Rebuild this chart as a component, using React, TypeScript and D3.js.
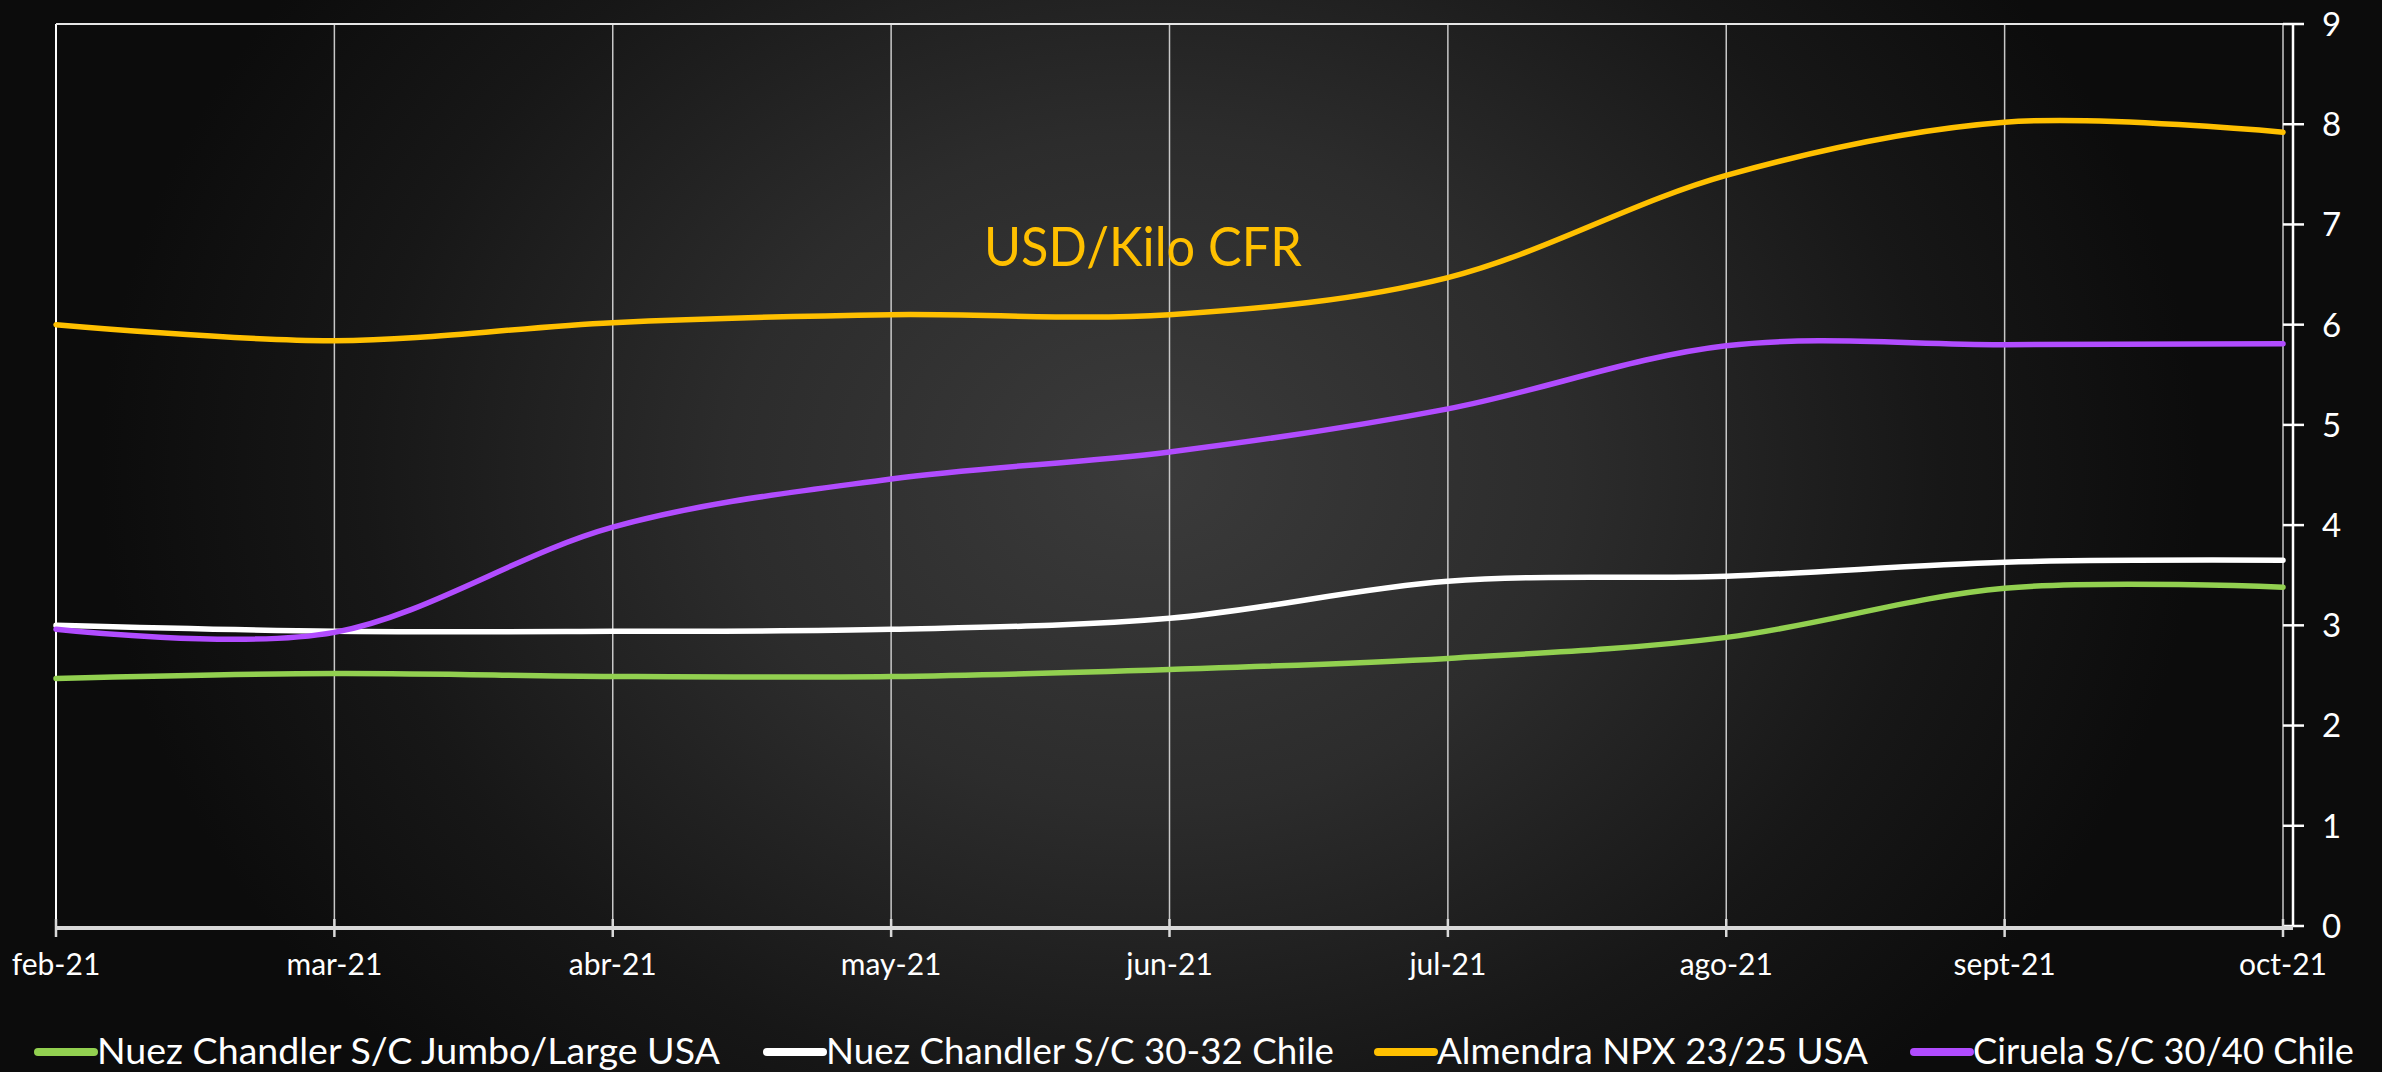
import React from "react";
import * as d3 from "d3";

const months = ["feb-21", "mar-21", "abr-21", "may-21", "jun-21", "jul-21", "ago-21", "sept-21", "oct-21"];
const nuezJumbo = [2.47, 2.52, 2.49, 2.49, 2.56, 2.67, 2.88, 3.37, 3.38];
const nuezChile = [3.0, 2.94, 2.94, 2.96, 3.07, 3.44, 3.49, 3.63, 3.65];
const almendra = [6.0, 5.84, 6.02, 6.1, 6.1, 6.47, 7.49, 8.02, 7.92];
const ciruela = [2.96, 2.93, 3.98, 4.46, 4.73, 5.16, 5.79, 5.8, 5.81];
const yTicks = [0, 1, 2, 3, 4, 5, 6, 7, 8, 9];
const seriesNames = [
  "Nuez Chandler S/C Jumbo/Large USA",
  "Nuez Chandler S/C 30-32 Chile",
  "Almendra NPX 23/25 USA",
  "Ciruela S/C 30/40 Chile",
];
const titleText = "USD/Kilo CFR";

const W = 2382;
const H = 1072;
const left = 56;
const right = 2283;
const top = 24;
const bottom = 926;
const FONT = "Lato, 'Open Sans', sans-serif";

const colors = ["#92d050", "#ffffff", "#ffc000", "#b14cff"];
const legendX = [38, 767, 1378, 1914];
const legendTextLen = [623, 508, 431, 381];

export default function App() {
  const x = d3.scalePoint<string>().domain(months).range([left, right]);
  const y = d3.scaleLinear().domain([0, 9]).range([bottom, top]);
  const allSeries = [nuezJumbo, nuezChile, almendra, ciruela];
  const line = d3
    .line<number>()
    .x((_, i) => x(months[i]) as number)
    .y((d) => y(d))
    .curve(d3.curveCardinal.tension(0));

  const axisX = 2293;

  return (
    <svg width={W} height={H} style={{ position: "absolute", left: 0, top: 0 }} fontFamily={FONT}>
      <defs>
        <radialGradient
          id="bg"
          cx="1150"
          cy="470"
          r="1050"
          gradientUnits="userSpaceOnUse"
          gradientTransform="translate(1150 470) scale(1 0.8) translate(-1150 -470)"
        >
          <stop offset="0" stopColor="#3b3b3b" />
          <stop offset="0.4" stopColor="#2c2c2c" />
          <stop offset="0.75" stopColor="#171717" />
          <stop offset="1" stopColor="#0c0c0c" />
        </radialGradient>
      </defs>
      <rect x={0} y={0} width={W} height={H} fill="#0c0c0c" />
      <rect x={0} y={0} width={W} height={H} fill="url(#bg)" />

      {/* vertical gridlines */}
      {months.map((m, i) => (
        <line
          key={m}
          x1={x(m)}
          x2={x(m)}
          y1={top}
          y2={bottom}
          stroke={i === 0 ? "#ffffff" : "#c8c8c8"}
          strokeWidth={i === 0 ? 2 : 1.5}
        />
      ))}
      {/* top border */}
      <line x1={left} x2={right} y1={top} y2={top} stroke="#e6e6e6" strokeWidth={2} />

      {/* right y axis */}
      <line x1={axisX} x2={axisX} y1={y(9)} y2={y(0)} stroke="#ffffff" strokeWidth={2.5} />
      {yTicks.map((t) => (
        <g key={t}>
          <line x1={right} x2={axisX + 11} y1={y(t)} y2={y(t)} stroke="#ffffff" strokeWidth={2.5} />
          <text x={2322} y={y(t)} dy="0.36em" fill="#ffffff" fontSize={33}>
            {t}
          </text>
        </g>
      ))}

      {/* bottom x axis */}
      <line x1={left} x2={axisX} y1={bottom + 2} y2={bottom + 2} stroke="#d9d9d9" strokeWidth={4} />
      {months.map((m) => (
        <g key={m}>
          <line x1={x(m)} x2={x(m)} y1={bottom - 7} y2={bottom + 11} stroke="#d9d9d9" strokeWidth={2.5} />
          <text x={x(m)} y={975} textAnchor="middle" fill="#ffffff" fontSize={30}>
            {m}
          </text>
        </g>
      ))}

      {/* series */}
      {allSeries.map((s, i) => (
        <path
          key={i}
          d={line(s) || ""}
          fill="none"
          stroke={colors[i]}
          strokeWidth={5.5}
          strokeLinecap="round"
          strokeLinejoin="round"
        />
      ))}

      {/* title */}
      <text x={984} y={266} fill="#ffc000" fontSize={54} textLength={318} lengthAdjust="spacingAndGlyphs">
        {titleText}
      </text>

      {/* legend */}
      {seriesNames.map((n, i) => (
        <g key={n}>
          <line
            x1={legendX[i]}
            x2={legendX[i] + 56}
            y1={1052}
            y2={1052}
            stroke={colors[i]}
            strokeWidth={8}
            strokeLinecap="round"
          />
          <text
            x={legendX[i] + 59}
            y={1064}
            fill="#ffffff"
            fontSize={36}
            textLength={legendTextLen[i]}
            lengthAdjust="spacingAndGlyphs"
          >
            {n}
          </text>
        </g>
      ))}
    </svg>
  );
}
